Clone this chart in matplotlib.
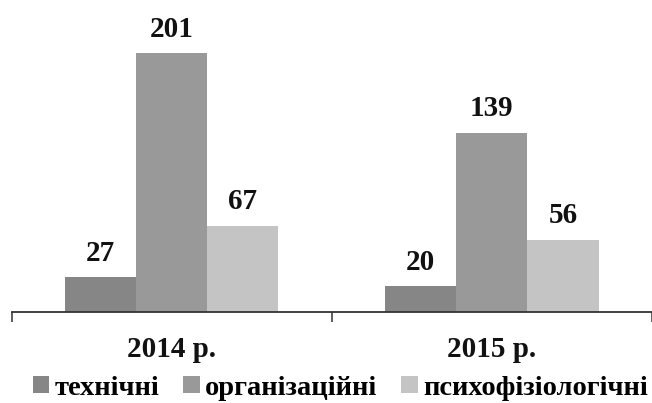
import matplotlib

matplotlib.use("Agg")
import matplotlib.pyplot as plt  # noqa: E402
import numpy as np  # noqa: E402
from matplotlib.patches import Patch  # noqa: E402

years = ["2014 р.", "2015 р."]
series = ["технічні", "організаційні", "психофізіологічні"]
values = {
    "технічні": [27, 20],
    "організаційні": [201, 139],
    "психофізіологічні": [67, 56],
}
colors = ["#868686", "#999999", "#c4c4c4"]

INK = "#111111"
FONT = "Liberation Serif"

plt.rcParams.update({"font.family": [FONT, "DejaVu Serif"], "font.weight": "bold"})

fig = plt.figure(figsize=(6.52, 4.03), dpi=100)
ax = fig.add_axes([0.018, 0.226, 0.982, 0.774])

x = np.arange(len(years))
width = 0.222
for i, (name, color) in enumerate(zip(series, colors)):
    vals = values[name]
    pos = x + (i - 1) * width
    ax.bar(pos, vals, width=width, color=color, edgecolor="none")
    for px, v in zip(pos, vals):
        ax.text(px, v + 8, str(v), ha="center", va="bottom",
                fontsize=21, fontweight="bold", color=INK)

ax.set_xlim(-0.5, 1.5)
ax.set_ylim(0, 242)
ax.set_yticks([])
for side in ("top", "right", "left"):
    ax.spines[side].set_visible(False)
ax.spines["bottom"].set_color("#333333")
ax.spines["bottom"].set_linewidth(1.3)

# category boundaries get the tick marks, labels sit between them
ax.set_xticks([-0.5, 0.5, 1.5])
ax.set_xticklabels([])
ax.tick_params(axis="x", direction="out", length=7.5, width=1.1, color="#333333")
ax.set_xticks(x, minor=True)
ax.set_xticklabels(years, minor=True, fontsize=21, fontweight="bold", color=INK)
ax.tick_params(axis="x", which="minor", length=0, pad=17)

handles = [Patch(facecolor=c, edgecolor="none") for c in colors]
fig.legend(handles, series, loc="center", bbox_to_anchor=(0.522, 0.037),
           ncol=3, frameon=False, handlelength=0.58, handleheight=0.58,
           handletextpad=0.18, columnspacing=0.85, borderpad=0, borderaxespad=0,
           prop={"family": FONT, "weight": "bold", "size": 20.5})

fig.savefig("out.png", dpi=100)
